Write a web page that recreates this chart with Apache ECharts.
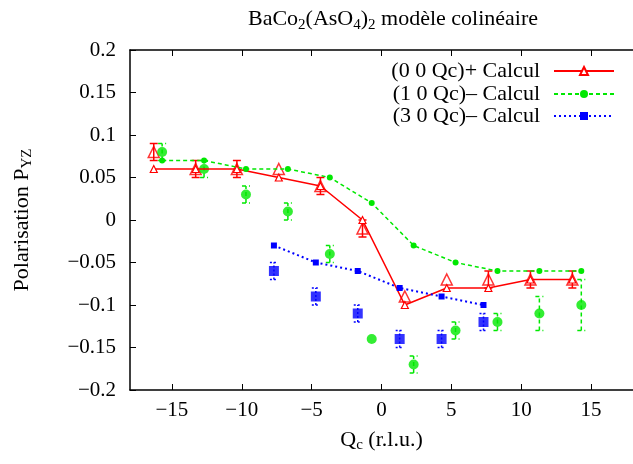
<!DOCTYPE html>
<html>
<head>
<meta charset="utf-8">
<script src="https://cdn.jsdelivr.net/npm/echarts@6/dist/echarts.min.js"></script>
<style>html,body{margin:0;padding:0;background:#fff}#c{width:633px;height:464px}</style>
</head>
<body>
<div id="c"></div>
<script>
// ---- data ----
const xTicks = [-15, -10, -5, 0, 5, 10, 15];
const yTicks = [-0.2, -0.15, -0.1, -0.05, 0, 0.05, 0.1, 0.15, 0.2];

// (0 0 Qc)+ : calculation and measurement
const redX = [-16.3, -13.3, -10.35, -7.35, -4.37, -1.36, 1.67, 4.67, 7.65, 10.66, 13.66];
const redCalc = [0.06, 0.06, 0.06, 0.05, 0.04, 0.0, -0.10, -0.08, -0.08, -0.07, -0.07];
const redMeas = [0.08, 0.06, 0.06, 0.06, 0.04, -0.01, -0.09, -0.07, -0.07, -0.07, -0.07];
const redErr = [0.01, 0.01, 0.01, 0.0, 0.01, 0.01, 0.0, 0.0, 0.01, 0.01, 0.01];

// (1 0 Qc)- : calculation and measurement
const greenX = [-15.7, -12.7, -9.7, -6.7, -3.7, -0.7, 2.3, 5.3, 8.3, 11.3, 14.3];
const greenCalc = [0.07, 0.07, 0.06, 0.06, 0.05, 0.02, -0.03, -0.05, -0.06, -0.06, -0.06];
const greenMeas = [0.08, 0.06, 0.03, 0.01, -0.04, -0.14, -0.17, -0.13, -0.12, -0.11, -0.10];
const greenErr = [0.01, 0.01, 0.01, 0.01, 0.01, 0.0, 0.01, 0.01, 0.01, 0.02, 0.03];

// (3 0 Qc)- : calculation and measurement
const blueX = [-7.7, -4.7, -1.7, 1.3, 4.3, 7.3];
const blueCalc = [-0.03, -0.05, -0.06, -0.08, -0.09, -0.10];
const blueMeas = [-0.06, -0.09, -0.11, -0.14, -0.14, -0.12];
const blueErr = [0.01, 0.01, 0.01, 0.01, 0.01, 0.01];

const names = ['(0 0 Qc)+ Calcul', '(1 0 Qc)\u2013 Calcul', '(3 0 Qc)\u2013 Calcul'];

// ---- styles ----
const FONT = '"Liberation Serif", "DejaVu Serif", serif';
const FS = 21, FL = 22, SFS = 15;
const RED = '#ff0000', GREEN = '#00e800', BLUE = '#0000ff';

function pairs(xs, ys) { return xs.map((x, i) => [x, ys[i]]); }

function errSeries(xs, ys, es, color, dash, w) {
  return {
    type: 'custom', silent: true, z: 3,
    data: xs.map((x, i) => [x, ys[i] - es[i], ys[i] + es[i], es[i]]),
    renderItem: function (params, api) {
      if (api.value(3) <= 0) return null;
      const lo = api.coord([api.value(0), api.value(1)]);
      const hi = api.coord([api.value(0), api.value(2)]);
      const hw = 4;
      const st = { stroke: color, lineWidth: w, lineDash: dash, fill: null };
      return {
        type: 'group', children: [
          { type: 'line', shape: { x1: lo[0], y1: lo[1], x2: hi[0], y2: hi[1] }, style: st },
          { type: 'line', shape: { x1: lo[0] - hw, y1: lo[1], x2: lo[0] + hw, y2: lo[1] }, style: st },
          { type: 'line', shape: { x1: hi[0] - hw, y1: hi[1], x2: hi[0] + hw, y2: hi[1] }, style: st }
        ]
      };
    }
  };
}

function fmtY(v) {
  const r = Math.round(v * 100) / 100;
  return (r < 0 ? '\u2212' : '') + String(Math.abs(r));
}
function fmtX(v) {
  return (v < 0 ? '\u2212' : '') + String(Math.abs(v));
}

const chart = echarts.init(document.getElementById('c'), null, { renderer: 'canvas' });

const legendBase = {
  orient: 'vertical', right: 13, align: 'right', itemWidth: 60, itemHeight: 10,
  textStyle: { fontFamily: FONT, fontSize: FL, color: '#000', padding: [0, 9, 0, 0] },
  selectedMode: false
};
const subStyle = { fontFamily: FONT, fontSize: SFS, color: '#000', lineHeight: SFS, verticalAlign: 'bottom' };

const option = {
  backgroundColor: '#fff',
  animation: false,
  title: {
    left: 388, top: 1, textAlign: 'center',
    text: '{a|BaCo}{s|2}{a|(AsO}{s|4}{a|)}{s|2}{a| modèle colinéaire}',
    textStyle: {
      fontWeight: 'normal',
      rich: {
        a: { fontFamily: FONT, fontSize: FL, color: '#000', lineHeight: 27, fontWeight: 'normal' },
        s: subStyle
      }
    }
  },
  legend: [
    Object.assign({}, legendBase, { top: 55, data: [names[0]] }),
    Object.assign({}, legendBase, { top: 78, data: [names[1]] }),
    Object.assign({}, legendBase, { top: 100, data: [names[2]] })
  ],
  grid: { left: 130, right: -8, top: 50, bottom: 74, containLabel: false },
  xAxis: [{
    type: 'value', min: -18, max: 18, position: 'bottom',
    name: 'Q{s|c} (r.l.u.)', nameLocation: 'middle', nameGap: 37,
    nameTextStyle: {
      rich: { s: subStyle },
      fontFamily: FONT, fontSize: FL, color: '#000', lineHeight: 26
    },
    axisLine: { show: true, onZero: false, lineStyle: { color: '#000', width: 1.5 } },
    axisTick: { show: true, inside: true, length: 6, customValues: xTicks, lineStyle: { color: '#000', width: 1 } },
    axisLabel: { customValues: xTicks, formatter: fmtX, fontFamily: FONT, fontSize: FS, color: '#000', margin: 10 },
    splitLine: { show: false }
  }, {
    type: 'value', min: -18, max: 18, position: 'top',
    axisLine: { show: true, onZero: false, lineStyle: { color: '#000', width: 1.5 } },
    axisTick: { show: true, inside: true, length: 6, customValues: xTicks, lineStyle: { color: '#000', width: 1 } },
    axisLabel: { show: false },
    splitLine: { show: false }
  }],
  yAxis: [{
    type: 'value', min: -0.2, max: 0.2, interval: 0.05,
    name: 'Polarisation P{s|YZ}', nameLocation: 'middle', nameGap: 95, nameRotate: 90,
    nameTextStyle: {
      rich: { s: subStyle },
      fontFamily: FONT, fontSize: FL, color: '#000', lineHeight: 26
    },
    axisLine: { show: true, onZero: false, lineStyle: { color: '#000', width: 1.5 } },
    axisTick: { show: true, inside: true, length: 6, customValues: yTicks, lineStyle: { color: '#000', width: 1 } },
    axisLabel: { customValues: yTicks, formatter: fmtY, fontFamily: FONT, fontSize: FS, color: '#000', margin: 14 },
    splitLine: { show: false }
  }],
  series: [
    // calculations (lines)
    {
      name: names[0], type: 'line', data: pairs(redX, redCalc), z: 5,
      lineStyle: { color: RED, width: 1.6 },
      symbol: 'triangle', symbolSize: 7, showSymbol: true,
      itemStyle: { color: '#ffffff', borderColor: RED, borderWidth: 1.2 }
    },
    {
      name: names[1], type: 'line', data: pairs(greenX, greenCalc), z: 5,
      lineStyle: { color: GREEN, width: 1.5, type: [4, 3] },
      symbol: 'circle', symbolSize: 6,
      itemStyle: { color: GREEN, borderWidth: 0 }
    },
    {
      name: names[2], type: 'line', data: pairs(blueX, blueCalc), z: 5,
      lineStyle: { color: BLUE, width: 2, type: [2, 3] },
      symbol: 'rect', symbolSize: 6,
      itemStyle: { color: BLUE, borderWidth: 0 }
    },
    // measurements
    errSeries(redX, redMeas, redErr, RED, null, 1.5),
    errSeries(greenX, greenMeas, greenErr, GREEN, [4, 3], 1.5),
    errSeries(blueX, blueMeas, blueErr, BLUE, [2, 2], 1.5),
    {
      name: 'mesure00', type: 'scatter', data: pairs(redX, redMeas), z: 4,
      symbol: 'triangle', symbolSize: 11,
      itemStyle: { color: 'rgba(255,255,255,0)', borderColor: RED, borderWidth: 1.5 }
    },
    {
      name: 'mesure10', type: 'scatter', data: pairs(greenX, greenMeas), z: 4,
      symbol: 'circle', symbolSize: 10,
      itemStyle: { color: GREEN, borderWidth: 0 }
    },
    {
      name: 'mesure30', type: 'scatter', data: pairs(blueX, blueMeas), z: 4,
      symbol: 'rect', symbolSize: 10,
      itemStyle: { color: BLUE, borderWidth: 0 }
    }
  ]
};
chart.setOption(option);
</script>
</body>
</html>
